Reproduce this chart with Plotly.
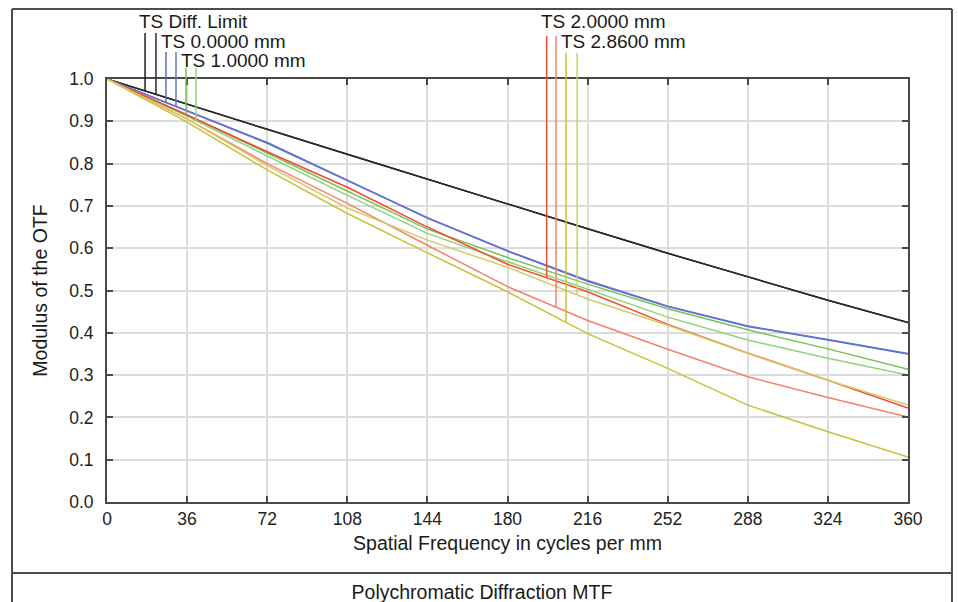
import numpy as np
import plotly.graph_objects as go

# ---------------- data ----------------
freq = [0, 36, 72, 108, 144, 180, 216, 252, 288, 324, 360]

diff_limit_t = [1.0, 0.940, 0.881, 0.822, 0.763, 0.704, 0.646, 0.588, 0.533, 0.477, 0.424]
diff_limit_s = [1.0, 0.940, 0.881, 0.822, 0.763, 0.704, 0.646, 0.588, 0.533, 0.477, 0.424]
field0_t = [1.0, 0.925, 0.850, 0.761, 0.671, 0.593, 0.522, 0.462, 0.415, 0.383, 0.350]
field0_s = [1.0, 0.924, 0.848, 0.760, 0.672, 0.594, 0.524, 0.463, 0.416, 0.384, 0.351]
field1_t = [1.0, 0.915, 0.825, 0.735, 0.645, 0.578, 0.515, 0.457, 0.407, 0.362, 0.314]
field1_s = [1.0, 0.912, 0.818, 0.725, 0.635, 0.568, 0.503, 0.437, 0.383, 0.340, 0.300]
field2_t = [1.0, 0.915, 0.828, 0.744, 0.650, 0.562, 0.497, 0.420, 0.352, 0.288, 0.222]
field2_s = [1.0, 0.905, 0.800, 0.706, 0.607, 0.509, 0.429, 0.361, 0.296, 0.247, 0.201]
field3_t = [1.0, 0.898, 0.785, 0.682, 0.589, 0.497, 0.398, 0.316, 0.229, 0.166, 0.106]
field3_s = [1.0, 0.905, 0.795, 0.695, 0.619, 0.555, 0.480, 0.418, 0.351, 0.288, 0.229]

labels = ["TS Diff. Limit", "TS 0.0000 mm", "TS 1.0000 mm", "TS 2.0000 mm", "TS 2.8600 mm"]
# frequencies at which the legend lead lines hang down onto the curves (T, S)
legend_freq = [(17.1, 22.0), (26.5, 31.0), (35.5, 40.0), (197.6, 201.8), (206.3, 211.3)]

x_ticks = [0, 36, 72, 108, 144, 180, 216, 252, 288, 324, 360]
y_ticks = [0.0, 0.1, 0.2, 0.3, 0.4, 0.5, 0.6, 0.7, 0.8, 0.9, 1.0]

# ---------------- styles ----------------
series = [
    (diff_limit_t, diff_limit_s, ("#1e1e1e", "#2a2a2a")),
    (field0_t, field0_s, ("#5a6acb", "#6674cf")),
    (field1_t, field1_s, ("#72c455", "#92d27c")),
    (field2_t, field2_s, ("#f24a33", "#f5816a")),
    (field3_t, field3_s, ("#c7c13a", "#d3cc66")),
]
# paper-y for label centres and for tops of lead lines
label_y = [1.1355, 1.0882, 1.0449, 1.1355, 1.0882]
lead_top = [1.1087, 1.0638, 1.026, 1.1017, 1.0622]
label_shift = [-8, -7, -7, -8, -7]

FONT = "Liberation Sans, Arial, sans-serif"

fig = go.Figure()
for (t, s, cols), lab in zip(series, labels):
    fig.add_trace(go.Scatter(x=freq, y=t, mode="lines", name=lab + " T",
                             line=dict(color=cols[0], width=1.5), showlegend=False))
    fig.add_trace(go.Scatter(x=freq, y=s, mode="lines", name=lab + " S",
                             line=dict(color=cols[1], width=1.5), showlegend=False))

shapes = []
annotations = []
for (t, s, cols), lab, lf, ly, lt, sh in zip(series, labels, legend_freq, label_y, lead_top, label_shift):
    for xv, ser, col in ((lf[0], t, cols[0]), (lf[1], s, cols[1])):
        yv = float(np.interp(xv, freq, ser))
        shapes.append(dict(type="line", xref="x", yref="y", x0=xv, x1=xv, y0=yv, y1=1.0,
                           line=dict(color=col, width=1.5)))
        shapes.append(dict(type="line", xref="x", yref="paper", x0=xv, x1=xv, y0=1.0, y1=lt,
                           line=dict(color=col, width=1.5)))
    annotations.append(dict(text=lab, xref="x", yref="paper", x=lf[0], y=ly,
                            xanchor="left", yanchor="middle", xshift=sh, showarrow=False,
                            font=dict(family=FONT, size=19, color="#1a1a1a")))

# outer frame and separator
frame_col = "#4d4d4d"
shapes.append(dict(type="line", xref="paper", yref="paper", x0=-0.1186, x1=1.0549, y0=1.1655, y1=1.1655,
                   line=dict(color=frame_col, width=2)))
shapes.append(dict(type="line", xref="paper", yref="paper", x0=-0.1186, x1=-0.1186, y0=1.1655, y1=-0.3,
                   line=dict(color=frame_col, width=2)))
shapes.append(dict(type="line", xref="paper", yref="paper", x0=1.0549, x1=1.0549, y0=1.1655, y1=-0.3,
                   line=dict(color=frame_col, width=2)))
shapes.append(dict(type="line", xref="paper", yref="paper", x0=-0.1186, x1=1.0549, y0=-0.1678, y1=-0.1678,
                   line=dict(color=frame_col, width=2)))

axis_common = dict(
    showgrid=True, gridcolor="#dcdcdc", gridwidth=1.5,
    showline=True, linecolor="#4a4a4a", linewidth=2, mirror="ticks",
    ticks="inside", ticklen=6, tickwidth=2, tickcolor="#4a4a4a",
    zeroline=False,
    tickfont=dict(family=FONT, size=17.5, color="#222222"),
)

fig.update_layout(
    width=958, height=602,
    margin=dict(l=107, r=50, t=79, b=100),
    paper_bgcolor="white", plot_bgcolor="white",
    font=dict(family=FONT, color="#222222"),
    title=dict(text="Polychromatic Diffraction MTF", xref="container", yref="container",
               x=0.5031, y=0.016, xanchor="center", yanchor="middle",
               font=dict(family=FONT, size=19.5, color="#1a1a1a")),
    xaxis=dict(range=[0, 360], tickvals=x_ticks, ticktext=[str(v) for v in x_ticks],
               title=dict(text="Spatial Frequency in cycles per mm", standoff=8,
                          font=dict(family=FONT, size=19.5, color="#1a1a1a")),
               **axis_common),
    yaxis=dict(range=[0, 1.0], tickvals=y_ticks, ticktext=[f"{v:.1f}" for v in y_ticks],
               ticklabelstandoff=8,
               title=dict(text="Modulus of the OTF", standoff=16,
                          font=dict(family=FONT, size=19.5, color="#1a1a1a")),
               **axis_common),
    shapes=shapes,
    annotations=annotations,
    showlegend=False,
)

fig.write_html("out.html")
